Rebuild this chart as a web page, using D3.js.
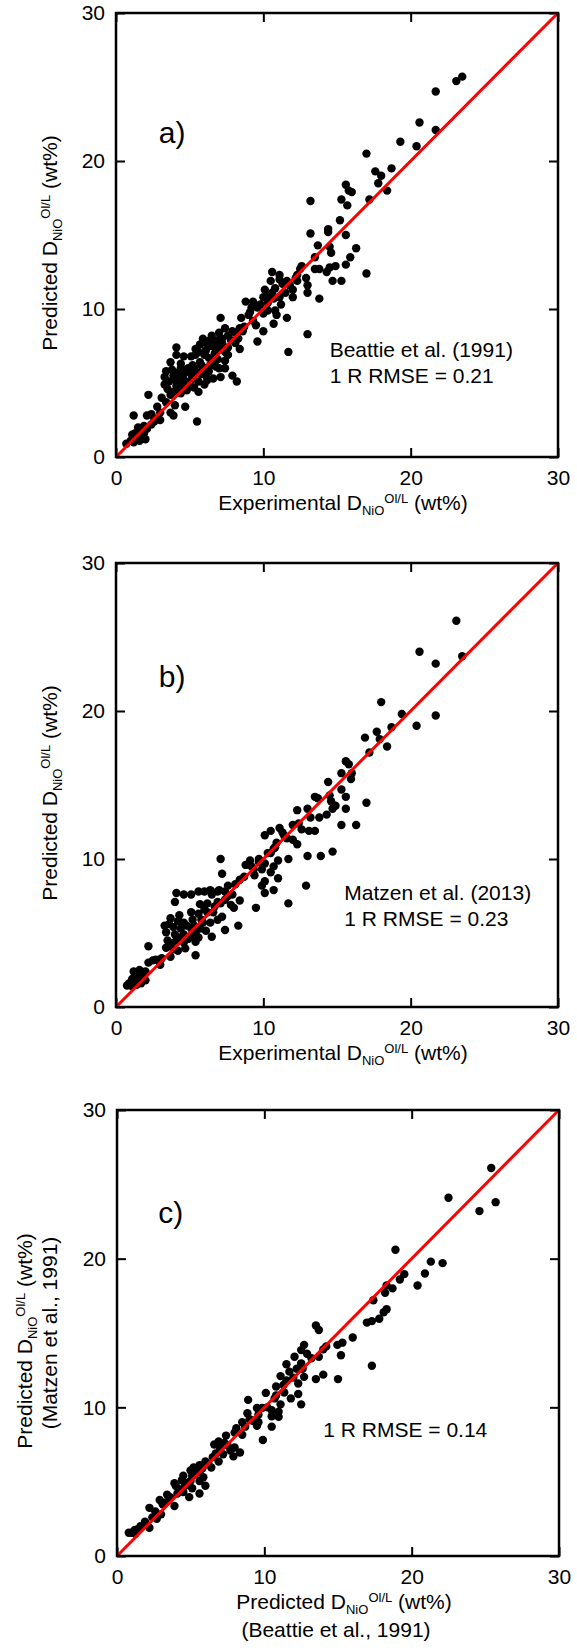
<!DOCTYPE html>
<html>
<head>
<meta charset="utf-8">
<script src="https://cdn.jsdelivr.net/npm/d3@7"></script>
<style>
  body { margin: 0; background: #fff; }
  svg text { font-family: "Liberation Sans", Arial, sans-serif; fill: #000; }
</style>
</head>
<body>
<svg id="chart"></svg>
<script>
const WIDTH = 577, HEIGHT = 1650

const ticks = [0, 10, 20, 30]
const diag = [0, 30]

// panel a: experimental vs predicted (Beattie et al. 1991)
const aX = [23.5,23.1,21.7,20.6,21.7,19.3,20.4,17.0,18.7,17.6,18.0,17.8,18.4,15.6,15.8,16.0,13.2,15.3,17.2,15.7,
  15.2,14.4,14.4,13.2,15.6,13.7,14.5,14.6,16.3,13.5,15.9,15.6,14.9,14.5,14.3,13.5,13.8,17.0,14.7,15.3,
  12.5,12.3,12.9,13.0,13.0,13.8,12.0,11.8,11.1,10.6,10.5,11.3,10.1,10.6,10.0,11.1,8.8,9.3,10.3,11.2,
  9.6,10.3,10.8,9.1,10.0,10.9,11.6,8.5,7.1,9.3,10.7,9.5,8.7,13.0,10.0,9.6,11.7,8.4,8.1,7.9,
  7.4,7.6,8.3,7.2,6.9,6.4,5.9,5.7,6.5,7.1,7.6,8.4,6.1,5.4,6.0,6.7,7.4,4.1,4.1,3.7,
  4.6,5.1,4.4,5.7,6.9,7.4,6.4,7.0,7.4,4.4,3.3,3.9,4.6,5.1,5.6,6.1,6.6,7.1,7.9,3.3,
  3.6,4.1,4.6,5.1,5.6,6.2,8.2,3.5,4.1,4.6,5.0,5.6,3.1,2.2,3.7,4.4,3.4,4.0,4.7,3.7,
  3.9,3.0,2.1,1.2,2.6,3.0,5.5,2.4,1.9,1.5,2.1,1.6,1.9,1.1,1.5,1.0,1.6,0.7,1.2,2.0,
  5.4,5.6,6.5,6.1,5.2,4.9,5.2,6.0,7.6,8.1,7.0,6.5,11.1,10.7,12.0,11.5,12.3,9.2,
  3.4,3.8,4.2,4.8,5.3,5.8,6.3,6.8,7.2,7.8,4.3,4.8,5.3,5.8,6.3,6.8,3.9,4.4,5.0,6.6,
  6.2,7.3,8.6,9.0,9.8,10.4,10.8,11.6,12.2,12.6,2.8,2.4,1.8,1.3,2.6]
const aY = [25.7,25.4,24.7,22.6,22.1,21.3,21.0,20.5,19.5,19.3,19.0,18.5,18.0,18.4,18.0,17.9,17.3,17.4,17.4,17.0,
  16.0,15.4,15.2,15.1,15.0,14.3,14.2,13.8,14.1,13.5,13.5,13.0,12.9,12.8,12.5,12.7,12.7,12.4,11.9,11.9,
  12.7,12.3,12.1,11.6,11.1,10.7,10.8,11.6,12.3,12.5,11.9,11.7,11.3,11.1,10.8,10.8,10.5,10.5,10.4,10.3,
  10.1,9.9,9.9,9.8,9.7,9.6,9.4,9.4,9.4,9.2,9.0,8.9,8.8,8.3,8.5,7.8,7.1,8.7,8.4,8.5,
  8.7,8.2,8.0,8.0,7.9,7.9,8.0,7.6,7.5,7.5,7.4,7.3,7.2,6.9,6.9,7.0,7.1,7.4,6.9,6.4,
  6.8,6.8,6.3,6.4,6.6,6.5,6.2,6.0,6.0,6.0,5.4,5.5,5.6,5.6,5.7,5.5,5.3,5.4,5.5,4.9,
  5.1,5.1,5.2,5.2,5.1,5.2,5.1,4.6,4.8,4.9,4.8,4.4,4.0,4.2,4.2,4.3,3.7,3.5,3.4,3.0,
  2.8,3.0,2.8,2.8,2.6,2.5,2.4,2.2,2.1,2.0,1.9,1.7,1.6,1.5,1.3,1.1,1.1,0.9,1.0,1.2,
  7.3,7.1,6.5,6.0,6.2,6.0,5.3,4.9,6.9,7.7,8.4,8.2,12.0,10.7,11.3,11.1,11.9,10.1,
  5.8,5.9,5.7,5.9,6.0,6.2,6.7,7.3,7.7,7.9,4.6,4.5,4.7,5.6,5.8,6.1,4.4,5.5,5.9,7.6,
  7.6,7.3,8.5,9.6,10.3,10.9,11.4,11.9,12.1,12.9,3.4,2.9,1.4,1.6,2.4]

// panel b: experimental vs predicted (Matzen et al. 2013)
const bX = [23.1,20.6,21.7,23.5,18.0,19.4,21.7,20.4,18.7,17.7,16.9,17.9,18.4,17.2,15.6,15.8,15.3,16.0,15.95,14.4,
  15.3,14.5,13.5,13.7,15.6,14.6,13.0,12.3,17.0,14.9,15.6,14.7,14.3,13.2,13.8,15.3,16.3,12.0,12.6,13.1,
  13.5,11.1,11.3,10.5,10.1,11.6,12.0,10.9,12.3,10.7,10.5,13.0,13.9,14.7,11.7,11.0,7.1,9.7,9.1,8.8,
  10.1,10.7,9.35,9.9,10.5,7.2,9.4,11.0,8.4,10.1,8.1,7.6,9.9,12.9,10.7,10.1,4.1,4.6,5.1,5.6,
  6.0,6.4,6.9,7.4,7.9,8.4,11.7,9.5,4.0,5.7,6.2,6.9,7.4,8.0,5.1,5.6,6.6,7.2,4.3,3.7,
  4.6,5.2,5.9,6.4,3.3,3.9,4.4,5.1,5.7,7.4,8.3,3.4,4.0,4.6,5.1,5.6,6.5,3.5,4.1,4.6,
  2.2,3.4,3.9,4.2,4.7,5.4,3.7,3.1,2.5,2.2,3.0,2.0,1.6,1.2,1.9,1.5,1.1,2.0,1.7,1.4,
  0.9,0.75,1.1,6.0,6.9,5.4,6.1,7.8,
  3.6,4.2,4.8,5.3,5.8,6.2,6.7,7.1,7.6,4.4,4.9,5.4,3.8,8.7,9.2,9.7,10.3,10.8,11.4,12.4,
  2.7,1.3,1.8,6.5,7.0]
const bY = [26.1,24.0,23.2,23.7,20.6,19.8,19.7,19.0,18.9,18.6,18.2,18.1,17.6,17.2,16.6,16.4,15.8,15.8,15.4,15.2,
  14.7,14.3,14.2,14.1,14.2,13.9,13.4,13.3,13.8,13.6,13.4,13.4,13.0,12.8,12.8,12.3,12.3,12.3,12.0,11.9,
  11.9,12.1,11.8,11.9,11.6,11.4,11.3,11.1,11.0,10.7,10.4,10.2,10.2,10.5,10.0,9.9,10.0,10.0,9.9,9.6,
  9.7,9.5,9.3,9.3,9.1,9.0,8.9,8.7,8.6,8.5,8.3,8.2,8.2,8.2,7.9,7.7,7.7,7.6,7.6,7.8,
  7.8,7.9,7.8,7.8,7.6,7.2,7.0,6.7,7.1,6.95,7.0,7.1,7.25,6.7,6.4,6.3,6.4,6.1,6.2,6.0,
  5.7,5.9,5.7,5.7,5.5,5.4,5.3,5.3,5.3,5.2,5.5,5.05,4.9,4.9,4.8,4.7,4.75,4.5,4.5,4.35,
  4.1,4.0,3.9,3.8,3.96,3.5,3.4,3.3,3.15,3.0,2.85,2.4,2.5,2.4,2.1,2.0,1.9,1.8,1.6,1.5,
  1.6,1.45,1.4,6.6,5.9,4.4,5.15,6.9,
  5.6,5.8,5.5,5.5,5.9,6.4,6.8,7.0,7.5,4.7,4.6,5.0,4.3,8.8,9.5,9.8,10.4,10.8,11.6,12.4,
  3.2,1.7,2.2,7.6,7.9]

// panel c: Beattie et al. vs Matzen et al. predictions
const cX = [25.4,22.5,24.6,25.7,18.9,21.3,22.1,20.9,19.5,19.2,20.4,18.3,18.7,18.2,17.4,18.3,18.1,17.8,17.3,16.96,
  13.5,13.7,16.0,15.3,14.96,14.2,14.0,12.7,12.5,12.9,13.7,15.2,12.05,13.2,12.5,11.5,17.3,12.6,11.7,11.1,
  11.97,12.7,14.0,13.5,15.0,10.8,11.3,12.3,11.35,10.1,10.8,12.3,11.8,8.9,12.5,11.1,9.5,9.85,10.5,10.97,
  8.85,9.6,10.5,10.97,8.5,9.2,9.6,10.5,8.7,9.5,7.98,7.4,8.5,9.9,6.9,6.6,7.5,7.98,7.0,7.7,
  8.35,7.2,6.5,7.9,6.9,6.0,5.6,6.4,5.2,4.99,5.6,4.5,5.1,5.86,4.4,4.99,5.6,3.9,4.0,4.6,
  6.0,5.1,4.5,5.6,4.1,4.9,3.4,3.6,2.9,3.1,3.9,2.2,2.6,2.99,2.7,1.9,2.2,1.6,1.4,1.0,
  1.25,0.8,1.2,1.87,
  5.3,5.8,6.2,6.7,7.3,4.7,4.2,3.3,8.1,9.0,10.2,10.7,11.5,12.2,2.4]
const cY = [26.1,24.1,23.2,23.8,20.6,19.8,19.7,19.0,18.96,18.6,18.2,18.2,18.0,17.7,17.2,16.6,16.4,15.96,15.8,15.7,
  15.5,15.2,14.7,14.35,14.2,14.1,13.9,14.2,13.85,13.6,13.4,13.5,13.4,13.3,12.96,12.9,12.8,12.6,12.4,12.1,
  12.0,12.05,12.2,11.9,11.9,11.4,11.5,11.6,11.0,10.97,10.8,10.9,10.6,10.5,10.2,10.2,9.96,9.96,9.8,9.7,
  9.6,9.5,9.4,9.36,9.0,9.1,9.0,8.7,8.7,8.76,8.3,8.1,8.16,7.8,7.7,7.5,7.44,7.3,7.2,7.1,
  6.96,6.84,6.65,6.7,6.36,6.36,6.1,5.95,5.95,5.76,5.64,5.4,5.4,5.3,5.1,5.04,5.04,4.9,4.7,4.7,
  4.73,4.56,4.3,4.2,4.2,3.96,4.13,3.96,3.77,3.48,3.36,3.24,3.0,2.8,2.5,2.3,1.9,2.0,1.8,1.56,
  1.5,1.56,1.75,2.1,
  5.5,5.9,6.2,6.9,7.6,4.9,4.5,3.6,8.6,9.2,10.0,10.6,11.8,12.6,2.6]

const panels = [
  { xs: aX, ys: aY, left: 116, right: 558, top: 13, bottom: 457, letter: 'a)', letterAt: [2.9, 21.2],
    notes: ['Beattie et al. (1991)', '1 R RMSE = 0.21'], noteAt: [14.5, 6.74],
    xTitle: ['Experimental '], yTitle: ['Predicted '], xSub: [], ySub: [] },
  { xs: bX, ys: bY, left: 116, right: 558, top: 563, bottom: 1007, letter: 'b)', letterAt: [2.9, 21.6],
    notes: ['Matzen et al. (2013)', '1 R RMSE = 0.23'], noteAt: [15.5, 7.25],
    xTitle: ['Experimental '], yTitle: ['Predicted '], xSub: [], ySub: [] },
  { xs: cX, ys: cY, left: 117, right: 559, top: 1110, bottom: 1556, letter: 'c)', letterAt: [2.8, 22.4],
    notes: ['1 R RMSE = 0.14'], noteAt: [14.0, 8.0],
    xTitle: ['Predicted '], yTitle: ['Predicted '],
    xSub: ['(Beattie et al., 1991)'], ySub: ['(Matzen et al., 1991)'] }
]

const svg = d3.select('#chart').attr('width', WIDTH).attr('height', HEIGHT)

// "Predicted D_NiO^Ol/L (wt%)" style label
function dLabel(sel, prefix) {
  sel.append('tspan').text(prefix + 'D')
  sel.append('tspan').text('NiO').attr('dy', 5).style('font-size', '13px')
  sel.append('tspan').text('Ol/L').attr('dy', -12).style('font-size', '13px')
  sel.append('tspan').text(' (wt%)').attr('dy', 7)
}

panels.forEach(p => {
  const g = svg.append('g')
  const x = d3.scaleLinear().domain([0, 30]).range([p.left, p.right])
  const y = d3.scaleLinear().domain([0, 30]).range([p.bottom, p.top])
  const pts = p.xs.map((v, i) => ({ x: v, y: p.ys[i] }))

  // axes, ticks pointing inward on all four sides
  const axes = [
    [d3.axisBottom(x).tickValues(ticks).tickSize(-9).tickPadding(13), `translate(0,${p.bottom})`],
    [d3.axisTop(x).tickValues(ticks).tickSize(-9).tickFormat(''), `translate(0,${p.top})`],
    [d3.axisLeft(y).tickValues(ticks).tickSize(-9).tickPadding(11), `translate(${p.left},0)`],
    [d3.axisRight(y).tickValues(ticks).tickSize(-9).tickFormat(''), `translate(${p.right},0)`]
  ]
  axes.forEach(([ax, tr]) => {
    const a = g.append('g').attr('transform', tr).call(ax)
    a.select('.domain').remove()
    a.selectAll('line').attr('stroke', '#000').attr('stroke-width', 2)
    a.selectAll('text').style('font-size', '21px').attr('fill', '#000')
  })

  g.append('g')
    .selectAll('circle')
    .data(pts)
    .join('circle')
    .attr('cx', d => x(d.x))
    .attr('cy', d => y(d.y))
    .attr('r', 4.2)
    .attr('fill', '#000')

  g.append('path')
    .datum(diag)
    .attr('d', d3.line().x(d => x(d)).y(d => y(d)))
    .attr('stroke', '#ff0000')
    .attr('stroke-width', 3)
    .attr('fill', 'none')

  g.append('rect')
    .attr('x', p.left).attr('y', p.top)
    .attr('width', p.right - p.left).attr('height', p.bottom - p.top)
    .attr('fill', 'none').attr('stroke', '#000').attr('stroke-width', 2.5)

  g.append('text')
    .attr('x', x(p.letterAt[0])).attr('y', y(p.letterAt[1]))
    .style('font-size', '30px')
    .text(p.letter)

  g.selectAll('.note')
    .data(p.notes)
    .join('text')
    .attr('x', x(p.noteAt[0]))
    .attr('y', (d, i) => y(p.noteAt[1]) + i * 26)
    .style('font-size', '21px')
    .text(d => d)

  const cx = (p.left + p.right) / 2 + 6
  const cy = (p.top + p.bottom) / 2
  const xt = g.append('text')
    .attr('x', cx).attr('y', p.bottom + 53)
    .attr('text-anchor', 'middle')
    .style('font-size', '21px')
  dLabel(xt, p.xTitle[0])
  p.xSub.forEach(s => {
    g.append('text')
      .attr('x', cx - 8).attr('y', p.bottom + 81)
      .attr('text-anchor', 'middle')
      .style('font-size', '21px')
      .text(s)
  })

  const yOff = p.ySub.length ? 32 : 57
  const yt = g.append('text')
    .attr('transform', `translate(${yOff},${cy + 8}) rotate(-90)`)
    .attr('text-anchor', 'middle')
    .style('font-size', '21px')
  dLabel(yt, p.yTitle[0])
  p.ySub.forEach(s => {
    g.append('text')
      .attr('transform', `translate(57,${cy}) rotate(-90)`)
      .attr('text-anchor', 'middle')
      .style('font-size', '21px')
      .text(s)
  })
})
</script>
</body>
</html>
